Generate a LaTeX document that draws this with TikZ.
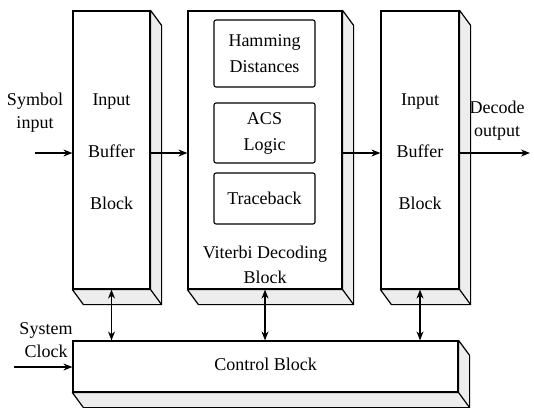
\documentclass[tikz,border=0pt]{standalone}
\usepackage{fontspec}
\setmainfont{Liberation Serif}
\usetikzlibrary{arrows.meta,calc}
\begin{document}
\begin{tikzpicture}[x=1pt,y=-1pt,
  blk/.style={draw,line width=1.2pt,fill=white,inner sep=0pt},
  inbox/.style={draw,line width=1.1pt,rounded corners=2pt,inner sep=0pt,align=center,font=\fontsize{18}{26}\selectfont},
  lbl/.style={align=center,inner sep=0pt,font=\fontsize{18}{23}\selectfont},
  conn/.style={line width=1.1pt,-{Stealth[length=9pt,width=7pt]}},
  dconn/.style={line width=1.1pt,{Stealth[length=9pt,width=7pt]}-{Stealth[length=9pt,width=7pt]}},
  side/.style={draw,line width=1.2pt,fill=gray!14,line join=round}]
\useasboundingbox (0,0) rectangle (534,407);
\newcommand{\extrude}[1]{%
  \path[side] (#1.north east) -- ++(11,15) -- ([shift={(11pt,-15pt)}]#1.south east)
    -- ([shift={(11pt,-15pt)}]#1.south west) -- (#1.south west) -- (#1.south east) -- cycle;
  \draw[line width=1.2pt] (#1.south east) -- ([shift={(11pt,-15pt)}]#1.south east);}
% blocks
\node[blk,minimum width=77,minimum height=278] (ib) at (111.5,150) {};
\node[blk,minimum width=154,minimum height=278] (vit) at (265,150) {};
\node[blk,minimum width=78,minimum height=278] (ob) at (420,150) {};
\node[blk,minimum width=385,minimum height=51] (ctl) at (265.5,366.5) {};
\extrude{ib}\extrude{vit}\extrude{ob}\extrude{ctl}
% texts in blocks
\node[align=center,inner sep=0pt,font=\fontsize{18}{52}\selectfont] (ibt) at (111.5,152) {Input\\Buffer\\Block};
\node[align=center,inner sep=0pt,font=\fontsize{18}{52}\selectfont] (obt) at (420,152) {Input\\Buffer\\Block};
\node[lbl,font=\fontsize{18}{25}\selectfont] (vitt) at (265,265) {Viterbi Decoding\\Block};
\node[lbl] (ctlt) at (265.5,364) {Control Block};
% inner boxes
\node[inbox,minimum width=101,minimum height=67] (ham) at (264.5,53.5) {Hamming\\Distances};
\node[inbox,minimum width=101,minimum height=60] (acs) at (264.5,133) {ACS\\Logic};
\node[inbox,minimum width=101,minimum height=51] (tb) at (264.5,198.5) {Traceback};
% outside labels
\node[lbl] (sym) at (35,113) {Symbol\\input};
\node[lbl] (dec) at (497,121) {Decode\\output};
\node[lbl] (sys) at (46,340) {System\\Clock};
\coordinate (sin) at (35,153);
\coordinate (dout) at (530,153);
\coordinate (clk) at (14,367);
% connectors
\draw[conn] (sin) -- (sin -| ib.west);
\draw[conn] ([yshift=-3pt]ib.east) -- ([yshift=-3pt]vit.west);
\draw[conn] ([yshift=-3pt]vit.east) -- ([yshift=-3pt]ob.west);
\draw[conn] ([yshift=-3pt]ob.east) -- (dout);
\draw[conn] (clk) -- (clk -| ctl.west);
\draw[dconn] (ib.south) -- (ib.south |- ctl.north);
\draw[dconn] (vit.south) -- (vit.south |- ctl.north);
\draw[dconn] (ob.south) -- (ob.south |- ctl.north);
\end{tikzpicture}
\end{document}
